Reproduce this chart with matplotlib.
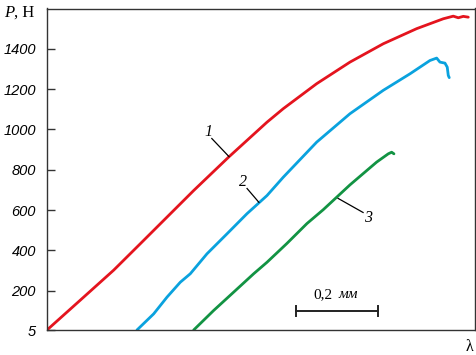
import matplotlib
matplotlib.use("Agg")
import matplotlib.pyplot as plt

# Curve 1 (red): displacement in mm, load in N
x1 = [0.0, 0.0812, 0.1627, 0.2276, 0.2927, 0.3578, 0.4432, 0.5366, 0.5763,
      0.6578, 0.7390, 0.8202, 0.9017, 0.9666, 0.9910, 1.0032, 1.0154, 1.0276]
p1 = [5, 153, 302, 433, 565, 697, 863, 1036, 1103,
      1227, 1334, 1425, 1500, 1549, 1562, 1554, 1561, 1557]

# Curve 2 (blue)
x2 = [0.2195, 0.2602, 0.2927, 0.3251, 0.3495, 0.3902, 0.4390, 0.4878, 0.5366,
      0.5763, 0.6578, 0.7390, 0.8202, 0.8854, 0.9341, 0.9505, 0.9585, 0.9707,
      0.9763, 0.9788, 0.9812]
p2 = [5, 85, 168, 242, 284, 383, 482, 582, 672,
      763, 937, 1078, 1194, 1276, 1342, 1354, 1334, 1329,
      1309, 1268, 1257]

# Curve 3 (green)
x3 = [0.3578, 0.4066, 0.4554, 0.5041, 0.5366, 0.585, 0.634, 0.6739, 0.7390,
      0.8041, 0.8324, 0.8407, 0.8463]
p3 = [5, 102, 193, 284, 341, 434, 533, 602, 725,
      838, 879, 887, 879]

yticks = [5, 200, 400, 600, 800, 1000, 1200, 1400]
ytick_labels = ["5", "200", "400", "600", "800", "1000", "1200", "1400"]

curve_labels = ["1", "2", "3"]
# label text position, leader start, leader end (data coords)
label_pos = [(0.393, 985), (0.478, 737), (0.783, 563)]
leader_a = [(0.402, 955), (0.488, 707), (0.771, 588)]
leader_b = [(0.444, 865), (0.517, 638), (0.710, 658)]

scale_x = [0.607, 0.807]   # 0.2 mm scale bar
scale_y = 98

RED = "#E4141E"
BLUE = "#0AA2DE"
GREEN = "#129343"

fig = plt.figure(figsize=(4.77, 3.55), dpi=100)
ax = fig.add_axes([47 / 477, 25 / 355, 428 / 477, 321.5 / 355])

lw = 2.0
for xs, ps, c in [(x1, p1, RED), (x2, p2, BLUE), (x3, p3, GREEN)]:
    ax.plot(xs, ps, color=c, lw=lw, solid_capstyle="round", solid_joinstyle="round")

serif = "Liberation Serif"
for lab, pos, a, b in zip(curve_labels, label_pos, leader_a, leader_b):
    ax.plot([a[0], b[0]], [a[1], b[1]], color="black", lw=0.9)
    ax.text(pos[0], pos[1], lab, family=serif, style="italic", fontsize=11.5,
            ha="center", va="center")

# scale bar
ax.plot(scale_x, [scale_y, scale_y], color="#222222", lw=1.4)
for sx in scale_x:
    ax.plot([sx, sx], [scale_y - 25, scale_y + 25], color="#222222", lw=1.4)
ax.text(0.672, 181, "0,2", family=serif, fontsize=11, ha="center", va="center")
ax.text(0.735, 181, "мм", family=serif, style="italic", fontsize=11,
        ha="center", va="center")

ax.set_xlim(0, 1.044)
ax.set_ylim(5, 1600)
ax.set_xticks([])
ax.set_yticks(yticks)
ax.set_yticklabels(ytick_labels, family="Liberation Sans", style="italic", fontsize=10.5)
ax.tick_params(axis="y", direction="in", length=6, width=1.0, pad=8, color="#333333")
for sp in ax.spines.values():
    sp.set_linewidth(1.0)
    sp.set_color("#333333")

fig.text(4 / 477, 1 - 17 / 355, "P", family=serif, style="italic", fontsize=12,
         ha="left", va="baseline")
fig.text(14 / 477, 1 - 17 / 355, ", Н", family=serif, fontsize=12,
         ha="left", va="baseline")
fig.text(470 / 477, 1 - 351 / 355, "λ", family=serif, fontsize=11.5,
         ha="center", va="baseline")

fig.savefig("out.png", dpi=100)
